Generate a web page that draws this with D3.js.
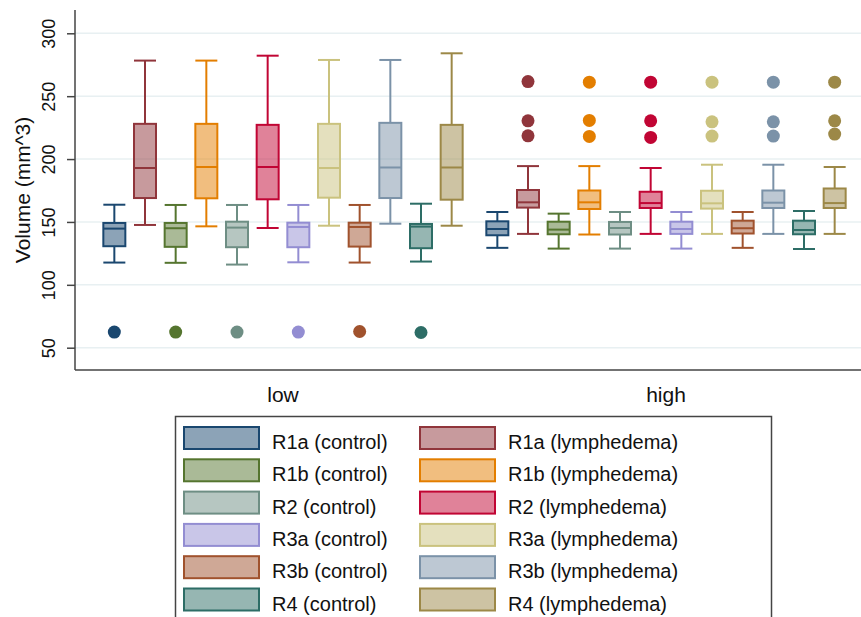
<!DOCTYPE html>
<html>
<head>
<meta charset="utf-8">
<script src="https://cdn.jsdelivr.net/npm/d3@7"></script>
<style>
  body { margin: 0; background: #fff; }
  text { font-family: 'Liberation Sans', Arial, sans-serif; fill: #111; }
</style>
</head>
<body>
<div id="chart"></div>
<script>
const groups = ['low', 'high']
const regions = ['R1a', 'R1b', 'R2', 'R3a', 'R3b', 'R4']
const conditions = ['control', 'lymphedema']
const yTicks = [50, 100, 150, 200, 250, 300]

// s2color order, control / lymphedema interleaved
const colors = ['#1a476f', '#90353b', '#55752f', '#e37e00', '#6e8e84', '#c10534',
  '#938dd2', '#cac27e', '#a0522d', '#7b92a8', '#2d6d66', '#9c8847']

// [lower whisker, q1, median, q3, upper whisker]
const lowStats = [
  [117.7, 130.7, 144.7, 149.2, 163.7], [147.6, 169.0, 192.9, 228.0, 278.3],
  [117.5, 130.2, 145.0, 149.2, 163.5], [146.5, 168.8, 193.7, 228.0, 278.3],
  [116.1, 129.9, 145.5, 150.2, 163.5], [145.2, 168.0, 193.7, 227.2, 282.2],
  [117.9, 129.9, 146.0, 149.4, 163.5], [147.0, 169.3, 192.9, 228.0, 278.8],
  [117.7, 130.4, 146.0, 149.4, 163.5], [148.6, 169.0, 193.3, 228.8, 278.8],
  [118.5, 129.1, 146.3, 148.4, 164.5], [147.0, 167.7, 193.3, 227.2, 284.1]
]
const highStats = [
  [129.4, 139.4, 144.4, 150.5, 157.9], [140.5, 161.4, 165.6, 175.4, 194.4],
  [128.8, 140.2, 143.9, 150.2, 156.6], [140.0, 160.3, 165.6, 175.0, 194.4],
  [128.8, 140.0, 145.2, 150.0, 157.9], [140.5, 161.1, 165.0, 174.0, 192.9],
  [128.8, 140.5, 144.4, 150.2, 157.9], [140.5, 160.6, 164.8, 174.8, 195.5],
  [129.4, 140.8, 145.0, 151.0, 157.9], [140.5, 161.1, 165.3, 175.0, 195.5],
  [128.5, 140.2, 143.6, 151.0, 158.7], [140.5, 161.1, 165.0, 176.6, 193.7]
]
const lowOutliers = [[62.4], [], [62.4], [], [62.4], [], [62.4], [], [62.9], [], [62.1], []]
const highOutliers = [
  [], [261.6, 230.4, 218.5], [], [261.1, 230.7, 218.0], [], [261.1, 230.4, 217.2],
  [], [261.1, 229.6, 218.3], [], [261.1, 229.6, 218.3], [], [261.1, 230.4, 219.9]
]

const width = 861
const height = 617
const plot = { left: 75, right: 861, top: 10, bottom: 370 }

const series = []
regions.forEach(function (r) {
  conditions.forEach(function (c) {
    series.push(r + ' (' + c + ')')
  })
})

const boxes = []
groups.forEach(function (g, gi) {
  const stats = gi === 0 ? lowStats : highStats
  const outs = gi === 0 ? lowOutliers : highOutliers
  series.forEach(function (s, i) {
    const v = stats[i]
    boxes.push({ group: g, series: s, color: colors[i], lo: v[0], q1: v[1], med: v[2], q3: v[3], hi: v[4], outliers: outs[i] })
  })
})

const svg = d3.select('#chart').append('svg')
  .attr('width', width)
  .attr('height', height)

const y = d3.scaleLinear().domain([50, 300]).range([347.7, 33.3])
const xGroup = d3.scalePoint().domain(groups).range([283, 666])
const xSeries = d3.scaleBand().domain(series).range([-184, 184])
const boxW = 22
const capW = 11

const cx = function (d) {
  return xGroup(d.group) + xSeries(d.series) + xSeries.bandwidth() / 2
}

// grid
svg.append('g').selectAll('line')
  .data(yTicks)
  .enter().append('line')
  .attr('x1', plot.left)
  .attr('x2', plot.right)
  .attr('y1', function (d) { return y(d) })
  .attr('y2', function (d) { return y(d) })
  .attr('stroke', '#e8f0f2')
  .attr('stroke-width', 1.5)

// y axis
const yAxis = svg.append('g')
  .attr('transform', 'translate(' + plot.left + ',0)')
  .call(d3.axisLeft(y).tickValues(yTicks).tickSize(8).tickFormat(d3.format('d')))
yAxis.select('.domain').remove()
yAxis.selectAll('.tick line').attr('stroke', '#444').attr('stroke-width', 1.5)
yAxis.selectAll('.tick text')
  .attr('x', 0)
  .attr('dy', 0)
  .attr('transform', 'translate(-20,0) rotate(-90)')
  .attr('text-anchor', 'middle')
  .style('font-size', '18px')
  .style('font-family', "'Liberation Sans', Arial, sans-serif")
  .attr('fill', '#111')

svg.append('line')
  .attr('x1', plot.left).attr('x2', plot.left)
  .attr('y1', plot.top).attr('y2', plot.bottom)
  .attr('stroke', '#444').attr('stroke-width', 1.5)
svg.append('line')
  .attr('x1', plot.left).attr('x2', plot.right)
  .attr('y1', plot.bottom).attr('y2', plot.bottom)
  .attr('stroke', '#444').attr('stroke-width', 1.5)

svg.append('text')
  .attr('transform', 'translate(30,190) rotate(-90)')
  .attr('text-anchor', 'middle')
  .style('font-size', '21px')
  .text('Volume (mm^3)')

svg.append('g').selectAll('text')
  .data(groups)
  .enter().append('text')
  .attr('x', function (d) { return xGroup(d) })
  .attr('y', 402)
  .attr('text-anchor', 'middle')
  .style('font-size', '21px')
  .text(function (d) { return d })

// boxes
const node = svg.append('g').selectAll('g')
  .data(boxes)
  .enter().append('g')

node.append('line')
  .attr('x1', cx).attr('x2', cx)
  .attr('y1', function (d) { return y(d.hi) })
  .attr('y2', function (d) { return y(d.q3) })
  .attr('stroke', function (d) { return d.color })
  .attr('stroke-width', 2)
node.append('line')
  .attr('x1', cx).attr('x2', cx)
  .attr('y1', function (d) { return y(d.q1) })
  .attr('y2', function (d) { return y(d.lo) })
  .attr('stroke', function (d) { return d.color })
  .attr('stroke-width', 2)
node.selectAll('.cap')
  .data(function (d) { return [{ v: d.hi, d: d }, { v: d.lo, d: d }] })
  .enter().append('line')
  .attr('class', 'cap')
  .attr('x1', function (c) { return cx(c.d) - capW })
  .attr('x2', function (c) { return cx(c.d) + capW })
  .attr('y1', function (c) { return y(c.v) })
  .attr('y2', function (c) { return y(c.v) })
  .attr('stroke', function (c) { return c.d.color })
  .attr('stroke-width', 2)

node.append('rect')
  .attr('x', function (d) { return cx(d) - boxW / 2 })
  .attr('y', function (d) { return y(d.q3) })
  .attr('width', boxW)
  .attr('height', function (d) { return y(d.q1) - y(d.q3) })
  .attr('fill', function (d) { return d.color })
  .attr('fill-opacity', 0.5)
  .attr('stroke', function (d) { return d.color })
  .attr('stroke-width', 2)

node.append('line')
  .attr('x1', function (d) { return cx(d) - boxW / 2 })
  .attr('x2', function (d) { return cx(d) + boxW / 2 })
  .attr('y1', function (d) { return y(d.med) })
  .attr('y2', function (d) { return y(d.med) })
  .attr('stroke', function (d) { return d.color })
  .attr('stroke-width', 2)

node.selectAll('circle')
  .data(function (d) { return d.outliers.map(function (v) { return { v: v, d: d } }) })
  .enter().append('circle')
  .attr('cx', function (c) { return cx(c.d) })
  .attr('cy', function (c) { return y(c.v) })
  .attr('r', 6.5)
  .attr('fill', function (c) { return c.d.color })

// legend
const legend = svg.append('g')
legend.append('rect')
  .attr('x', 175.5)
  .attr('y', 416.5)
  .attr('width', 596)
  .attr('height', 230)
  .attr('fill', 'none')
  .attr('stroke', '#444')
  .attr('stroke-width', 1.5)

const item = legend.selectAll('.item')
  .data(series)
  .enter().append('g')
  .attr('class', 'item')
  .attr('transform', function (d, i) {
    const col = i % 2
    const row = Math.floor(i / 2)
    return 'translate(' + (184 + col * 236) + ',' + (427 + row * 32.3) + ')'
  })

item.append('rect')
  .attr('width', 75)
  .attr('height', 22)
  .attr('fill', function (d, i) { return colors[i] })
  .attr('fill-opacity', 0.5)
  .attr('stroke', function (d, i) { return colors[i] })
  .attr('stroke-width', 2)

item.append('text')
  .attr('x', 88)
  .attr('y', 22)
  .style('font-size', '20px')
  .text(function (d) { return d })
</script>
</body>
</html>
